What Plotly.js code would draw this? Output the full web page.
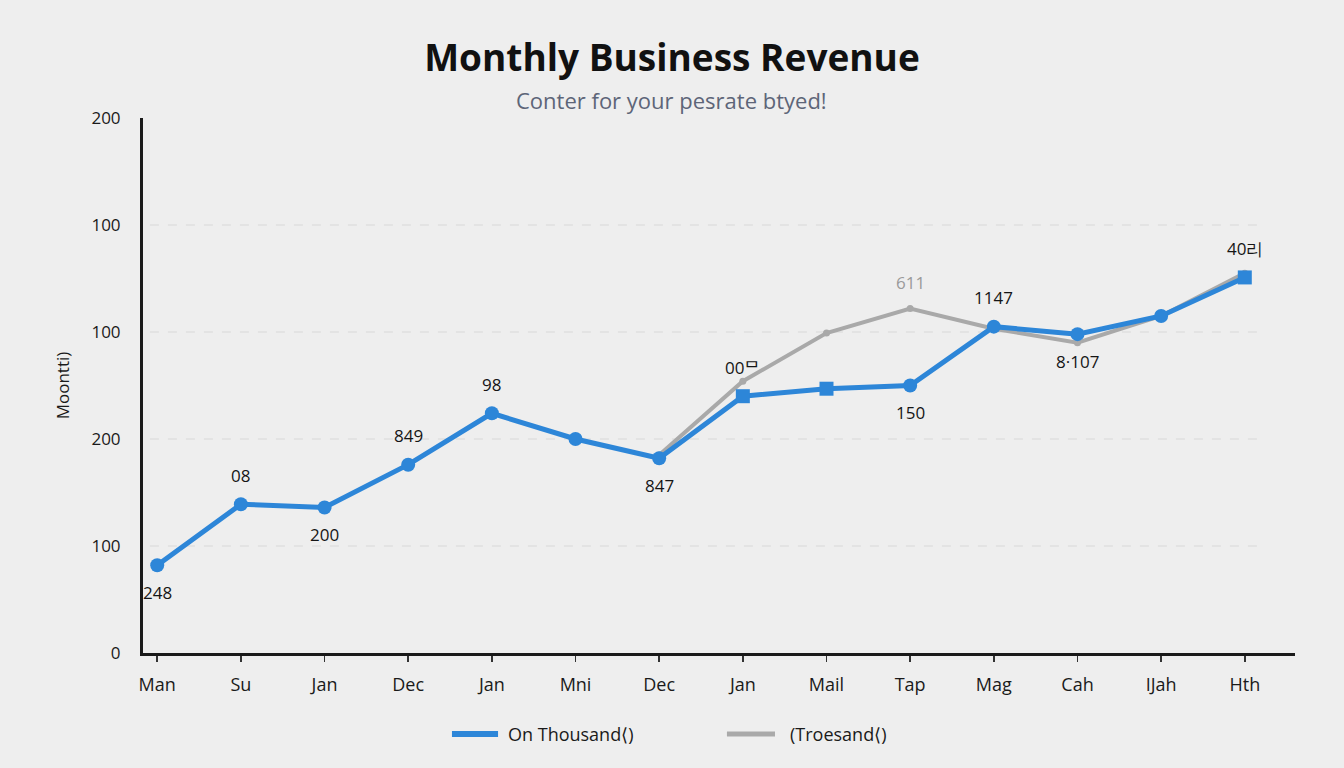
<!DOCTYPE html>
<html>
<head>
<meta charset="utf-8">
<script src="https://cdn.plot.ly/plotly-3.0.1.min.js"></script>
<style>
  html, body { margin: 0; padding: 0; background: #eeeeee; }
  #chart { width: 1344px; height: 768px; }
</style>
</head>
<body>
<div id="chart"></div>
<script>
// ---- data ----
const categories = ["Man", "Su", "Jan", "Dec", "Jan", "Mni", "Dec", "Jan", "Mail", "Tap", "Mag", "Cah", "IJah", "Hth"];
const blueValues = [82, 139, 136, 176, 224, 200, 182, 240, 247, 250, 305, 298, 315, 351];
const grayValues = [null, null, null, null, null, null, 185, 254, 299, 322, 303, 290, 315, 355];
const blueLabels = ["248", "08", "200", "849", "98", "", "847", "00ᄆ", "", "150", "1147", "8·107", "", "40리"];
const blueLabelSide = ["below", "above", "below", "above", "above", "", "below", "above", "", "below", "above", "below", "", "above"];
const grayLabels = ["", "", "", "", "", "", "", "", "", "611", "", "", "", ""];
const yTickVals = [0, 100, 200, 300, 400, 500];
const yTickText = ["0", "100", "200", "100", "100", "200"];
const seriesNames = ["On Thousand⟨)", "(Troesand⟨)"];

const xIdx = categories.map((_, i) => i);
const blue = "#2d86d8";
const gray = "#a9a9a9";
const FONT = "Open Sans, sans-serif";

const blueSymbols = categories.map((_, i) => (i === 7 || i === 8 || i === 13) ? "square" : "circle");

const traces = [
  {
    x: xIdx, y: grayValues, name: seriesNames[1], type: "scatter", mode: "lines+markers",
    line: { color: gray, width: 4 }, marker: { color: gray, size: 7 },
    showlegend: false, connectgaps: false, hoverinfo: "skip"
  },
  {
    x: xIdx, y: blueValues, name: seriesNames[0], type: "scatter", mode: "lines+markers",
    line: { color: blue, width: 5 }, marker: { color: blue, size: 14, symbol: blueSymbols },
    showlegend: false, hoverinfo: "skip"
  }
];

const annotations = [];
blueLabels.forEach((t, i) => {
  if (!t) return;
  annotations.push({
    x: xIdx[i], y: blueValues[i], xref: "x", yref: "y", text: t, showarrow: false,
    yshift: blueLabelSide[i] === "above" ? 29 : -27,
    font: { family: FONT, size: 17, color: "#151515" }
  });
});
grayLabels.forEach((t, i) => {
  if (!t) return;
  annotations.push({
    x: xIdx[i], y: grayValues[i], xref: "x", yref: "y", text: t, showarrow: false,
    yshift: 26, font: { family: FONT, size: 17, color: "#9a9a9a" }
  });
});
// subtitle (centred on the page)
annotations.push({
  xref: "paper", yref: "paper", x: 0.459, xanchor: "center", y: 1, yanchor: "middle", yshift: 18,
  text: "Conter for your pesrate btyed!", showarrow: false,
  font: { family: FONT, size: 22, color: "#5d6578" }
});

// manual legend
const legendY = -0.1514;
const legendSwatches = [[0.2682, 0.3082], [0.5069, 0.5486]];
const legendTextX = [0.3151, 0.5599];
const legendColors = [blue, gray];
const legendWidths = [6, 5];

const shapes = yTickVals.filter(v => v > 0 && v < 500).map(v => ({
  type: "line", xref: "paper", yref: "y", x0: 0.006, x1: 0.974, y0: v, y1: v,
  line: { color: "#d7d7d7", width: 1.2, dash: "dash" }, layer: "below"
}));
seriesNames.forEach((n, i) => {
  shapes.push({
    type: "line", xref: "paper", yref: "paper", x0: legendSwatches[i][0], x1: legendSwatches[i][1],
    y0: legendY, y1: legendY, line: { color: legendColors[i], width: legendWidths[i] }
  });
  annotations.push({
    xref: "paper", yref: "paper", x: legendTextX[i], xanchor: "left", y: legendY, yanchor: "middle",
    text: n, showarrow: false, font: { family: FONT, size: 18, color: "#1a1a1a" }
  });
});

const layout = {
  width: 1344, height: 768,
  paper_bgcolor: "#eeeeee", plot_bgcolor: "#eeeeee",
  margin: { l: 143, r: 49, t: 118, b: 115 },
  title: {
    text: "<b>Monthly Business Revenue</b>", x: 0.5, xanchor: "center",
    y: 0.925, yanchor: "middle",
    font: { family: FONT, size: 37, color: "#111111" }
  },
  xaxis: {
    range: [-0.17, 13.6], tickvals: xIdx, ticktext: categories,
    showgrid: false, zeroline: false, showline: true, linecolor: "#1a1a1a", linewidth: 2.5,
    ticks: "outside", ticklen: 6, tickwidth: 1.5, tickcolor: "#333", ticklabelstandoff: 8,
    tickfont: { family: FONT, size: 18, color: "#1a1a1a" },
    automargin: false, fixedrange: true
  },
  yaxis: {
    range: [0, 500], tickvals: yTickVals, ticktext: yTickText,
    showgrid: false, zeroline: false, showline: true, linecolor: "#1a1a1a", linewidth: 3,
    ticks: "", ticklabelstandoff: 16,
    tickfont: { family: FONT, size: 17, color: "#1a1a1a" },
    title: { text: "Moontti)", standoff: 18, font: { family: FONT, size: 17, color: "#1a1a1a" } },
    automargin: false, fixedrange: true
  },
  showlegend: false,
  annotations: annotations,
  shapes: shapes
};

Plotly.newPlot("chart", traces, layout, { displayModeBar: false, staticPlot: true });
</script>
</body>
</html>
